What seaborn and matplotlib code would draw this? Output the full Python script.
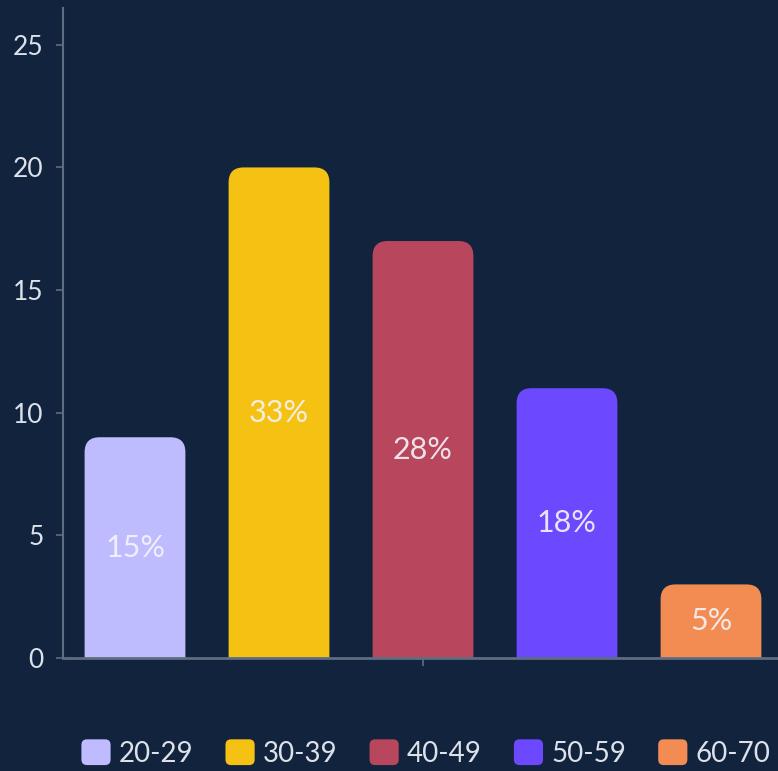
import matplotlib
matplotlib.use('Agg')
import matplotlib.pyplot as plt
import seaborn as sns
import pandas as pd
from matplotlib.patches import FancyBboxPatch, Patch
from matplotlib.legend_handler import HandlerPatch

# dados do grafico
faixas = ['20-29', '30-39', '40-49', '50-59', '60-70']
valores = [9, 20, 17, 11, 3]
percentuais = ['15%', '33%', '28%', '18%', '5%']
cores = ['#bebbff', '#f5c214', '#b8465c', '#6c48fe', '#f28c52']

fundo = '#12233d'
cinza = '#5f6d82'
texto = '#dde2ea'

sns.set_theme(style='dark', rc={'axes.facecolor': fundo, 'figure.facecolor': fundo,
                                'axes.grid': False})
plt.rcParams['font.family'] = ['Lato', 'DejaVu Sans']


class HandlerRedondo(HandlerPatch):
    def create_artists(self, legend, orig, xdescent, ydescent, width, height, fontsize, trans):
        p = FancyBboxPatch((-xdescent, -ydescent), width, height,
                           boxstyle='round,pad=0,rounding_size=4',
                           fc=orig.get_facecolor(), ec='none', transform=trans)
        return [p]


fig = plt.figure(figsize=(7.78, 7.71), dpi=100)
# eixo um pouco mais largo que a figura, como no original
ax = fig.add_axes([63 / 778, 113 / 771, 720 / 778, 650 / 771])

df = pd.DataFrame({'grupo': [''] * len(faixas), 'faixa': faixas, 'qtd': valores})
sns.barplot(data=df, x='grupo', y='qtd', hue='faixa', hue_order=faixas, palette=cores,
            width=0.8, gap=0.3, saturation=1, legend=False, ax=ax)

ax.set_xlim(-0.4, 0.4)
ax.set_ylim(0, 26.5)

# cantos arredondados no topo das barras
pxx = ax.bbox.width / 0.8
pxy = ax.bbox.height / 26.5
r = 15
rx = r / pxx
ry = r / pxy
for bar, pct in zip(list(ax.patches), percentuais):
    x, w, h = bar.get_x(), bar.get_width(), bar.get_height()
    c = bar.get_facecolor()
    bar.set_visible(False)
    p = FancyBboxPatch((x, -ry), w, h + ry, boxstyle='round,pad=0,rounding_size=%f' % rx,
                       mutation_aspect=pxx / pxy, fc=c, ec='none')
    ax.add_patch(p)
    ax.text(x + w / 2, h / 2, pct, ha='center', va='center', color='#f6f4fa',
            alpha=0.9, fontsize=22)

for s in ['top', 'right']:
    ax.spines[s].set_visible(False)
ax.spines['left'].set_color(cinza)
ax.spines['left'].set_linewidth(1.5)
ax.spines['bottom'].set_color(cinza)
ax.spines['bottom'].set_linewidth(2)

ax.set_yticks([0, 5, 10, 15, 20, 25])
ax.tick_params(axis='y', colors=cinza, labelcolor=texto, labelsize=19, length=5, width=1.2, pad=9,
               left=True)
ax.set_xticks([0])
ax.set_xticklabels([''])
ax.tick_params(axis='x', colors=cinza, length=6, width=1.2, bottom=True)
ax.set_xlabel('')
ax.set_ylabel('')

handles = [Patch(fc=c) for c in cores]
fig.legend(handles, faixas, ncol=5, loc='center', bbox_to_anchor=(426 / 778, 1 - 753 / 771),
           frameon=False, fontsize=20, handlelength=1.05, handleheight=1.05, handletextpad=0.3,
           columnspacing=1.15, handler_map={Patch: HandlerRedondo()}, labelcolor=texto)

fig.savefig('out.png', dpi=100, facecolor=fundo)
